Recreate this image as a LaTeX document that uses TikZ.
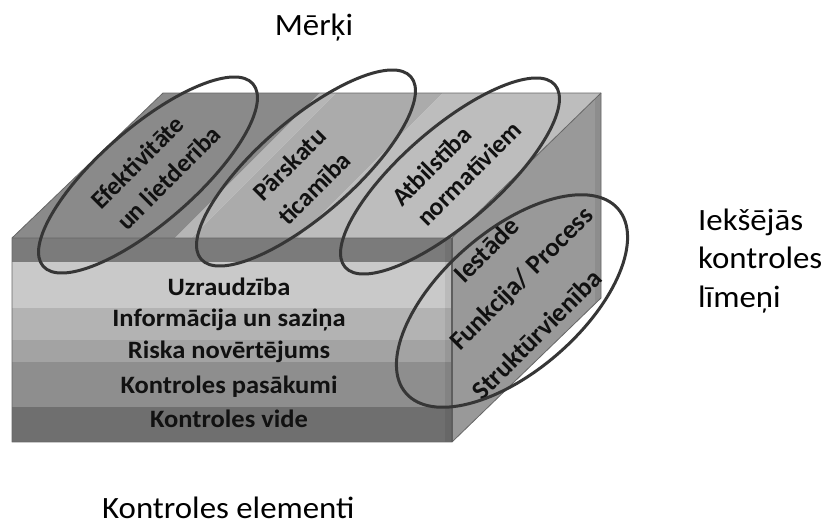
\documentclass[tikz,border=0pt]{standalone}
\usepackage{fontspec}
\setmainfont{Carlito}[FakeStretch=1.06]
\newfontfamily\tiltfont{Carlito}
\usetikzlibrary{shapes.geometric}
\definecolor{topDark}{HTML}{8A8A8A}
\definecolor{topStripe}{HTML}{B6B6B6}
\definecolor{topMid}{HTML}{ABABAB}
\definecolor{topLight}{HTML}{BDBDBD}
\definecolor{rightc}{HTML}{999999}
\definecolor{fzero}{HTML}{7B7B7B}
\definecolor{fone}{HTML}{C9C9C9}
\definecolor{ftwo}{HTML}{B3B3B3}
\definecolor{fthree}{HTML}{A3A3A3}
\definecolor{ffour}{HTML}{8E8E8E}
\definecolor{ffive}{HTML}{6F6F6F}
\definecolor{ringc}{HTML}{363636}
\definecolor{edgec}{HTML}{666666}
\definecolor{textc}{HTML}{111111}
\begin{document}
\begin{tikzpicture}[x=1pt,y=-1pt,
  ring/.style={draw=ringc, line width=3pt, ellipse, inner sep=0pt, outer sep=0pt},
  lbl/.style={font=\bfseries\fontsize{25}{30}\selectfont, text=textc, inner sep=0pt},
  tilt/.style={font=\tiltfont\bfseries\fontsize{25.5}{30}\selectfont, text=textc, inner sep=0pt, rotate=45, anchor=base west},
  tiltbig/.style={tilt, font=\tiltfont\bfseries\fontsize{26.5}{30}\selectfont},
  outer/.style={font=\fontsize{31}{38}\selectfont, inner sep=0pt, anchor=base west}]
\useasboundingbox (0,0) rectangle (828,525);
\fill[white] (0,0) rectangle (828,525);

% top face
\fill[topDark] (163,93) -- (320,93) -- (175,238) -- (12,238) -- cycle;
\fill[topStripe] (320,93) -- (336,93) -- (191,238) -- (175,238) -- cycle;
\fill[topMid] (336,93) -- (443,93) -- (298,238) -- (191,238) -- cycle;
\fill[topLight] (443,93) -- (601,93) -- (452,238) -- (298,238) -- cycle;
% right face
\fill[rightc] (452,238) -- (601,93) -- (601,298) -- (452,442) -- cycle;
\fill[black, opacity=0.08] (595,99) -- (601,93) -- (601,298) -- (595,304) -- cycle;
% front bands
\fill[fzero] (12,238) rectangle (452,262);
\fill[fone] (12,262) rectangle (452,308);
\fill[ftwo] (12,308) rectangle (452,340);
\fill[fthree] (12,340) rectangle (452,362);
\fill[ffour] (12,362) rectangle (452,407);
\fill[ffive] (12,407) rectangle (452,442);
\fill[black, opacity=0.07] (445,238) rectangle (452,442);
% edges
\draw[edgec, line width=0.8pt, line join=round]
  (12,238) -- (163,93) -- (601,93) -- (601,298) -- (452,442) -- (12,442) -- cycle;
\draw[edgec, line width=0.8pt] (12,238) -- (452,238) -- (601,93);
\draw[ringc!80, line width=1.4pt] (452,238) -- (452,442);

% front labels
\node[lbl, anchor=base] (uz) at (229,295) {Uzraudzība};
\node[lbl, anchor=base] (inf) at (229,326) {Informācija un saziņa};
\node[lbl, anchor=base] (ris) at (229,358) {Riska novērtējums};
\node[lbl, anchor=base] (pas) at (229,393) {Kontroles pasākumi};
\node[lbl, anchor=base] (vid) at (229,427) {Kontroles vide};

% rotated labels
\node[tilt] (e1a) at (101,211) {Efektivitāte};
\node[tilt] (e1b) at (127,232) {un lietderība};
\node[tilt] (e2a) at (263,203) {Pārskatu};
\node[tilt] (e2b) at (288,227) {ticamība};
\node[tilt] (e3a) at (402,208) {Atbilstība};
\node[tilt] (e3b) at (427,228) {normatīviem};
\node[tiltbig] (r1) at (464,285) {Iestāde};
\node[tiltbig] (r2) at (460,352) {Funkcija/ Process};
\node[tiltbig] (r3) at (482,402) {Struktūrvienība};

% ellipses
\node[ring, minimum width=278pt, minimum height=95pt, rotate=41] (ring1) at (148,175) {};
\node[ring, minimum width=278pt, minimum height=95pt, rotate=41] (ring2) at (306,168) {};
\node[ring, minimum width=278pt, minimum height=95pt, rotate=41] (ring3) at (450,176) {};
\node[ring, minimum width=281pt, minimum height=140pt, rotate=41] (ring4) at (512,301) {};

% outside labels
\node[outer, anchor=base] (goal) at (314,35) {Mērķi};
\node[outer] (lev) at (698,230) {Iekšējās};
\node[outer] (lev2) at (698,268.5) {kontroles};
\node[outer] (lev3) at (698,307) {līmeņi};
\node[outer] (elem) at (102,518) {Kontroles elementi};
\end{tikzpicture}
\end{document}
